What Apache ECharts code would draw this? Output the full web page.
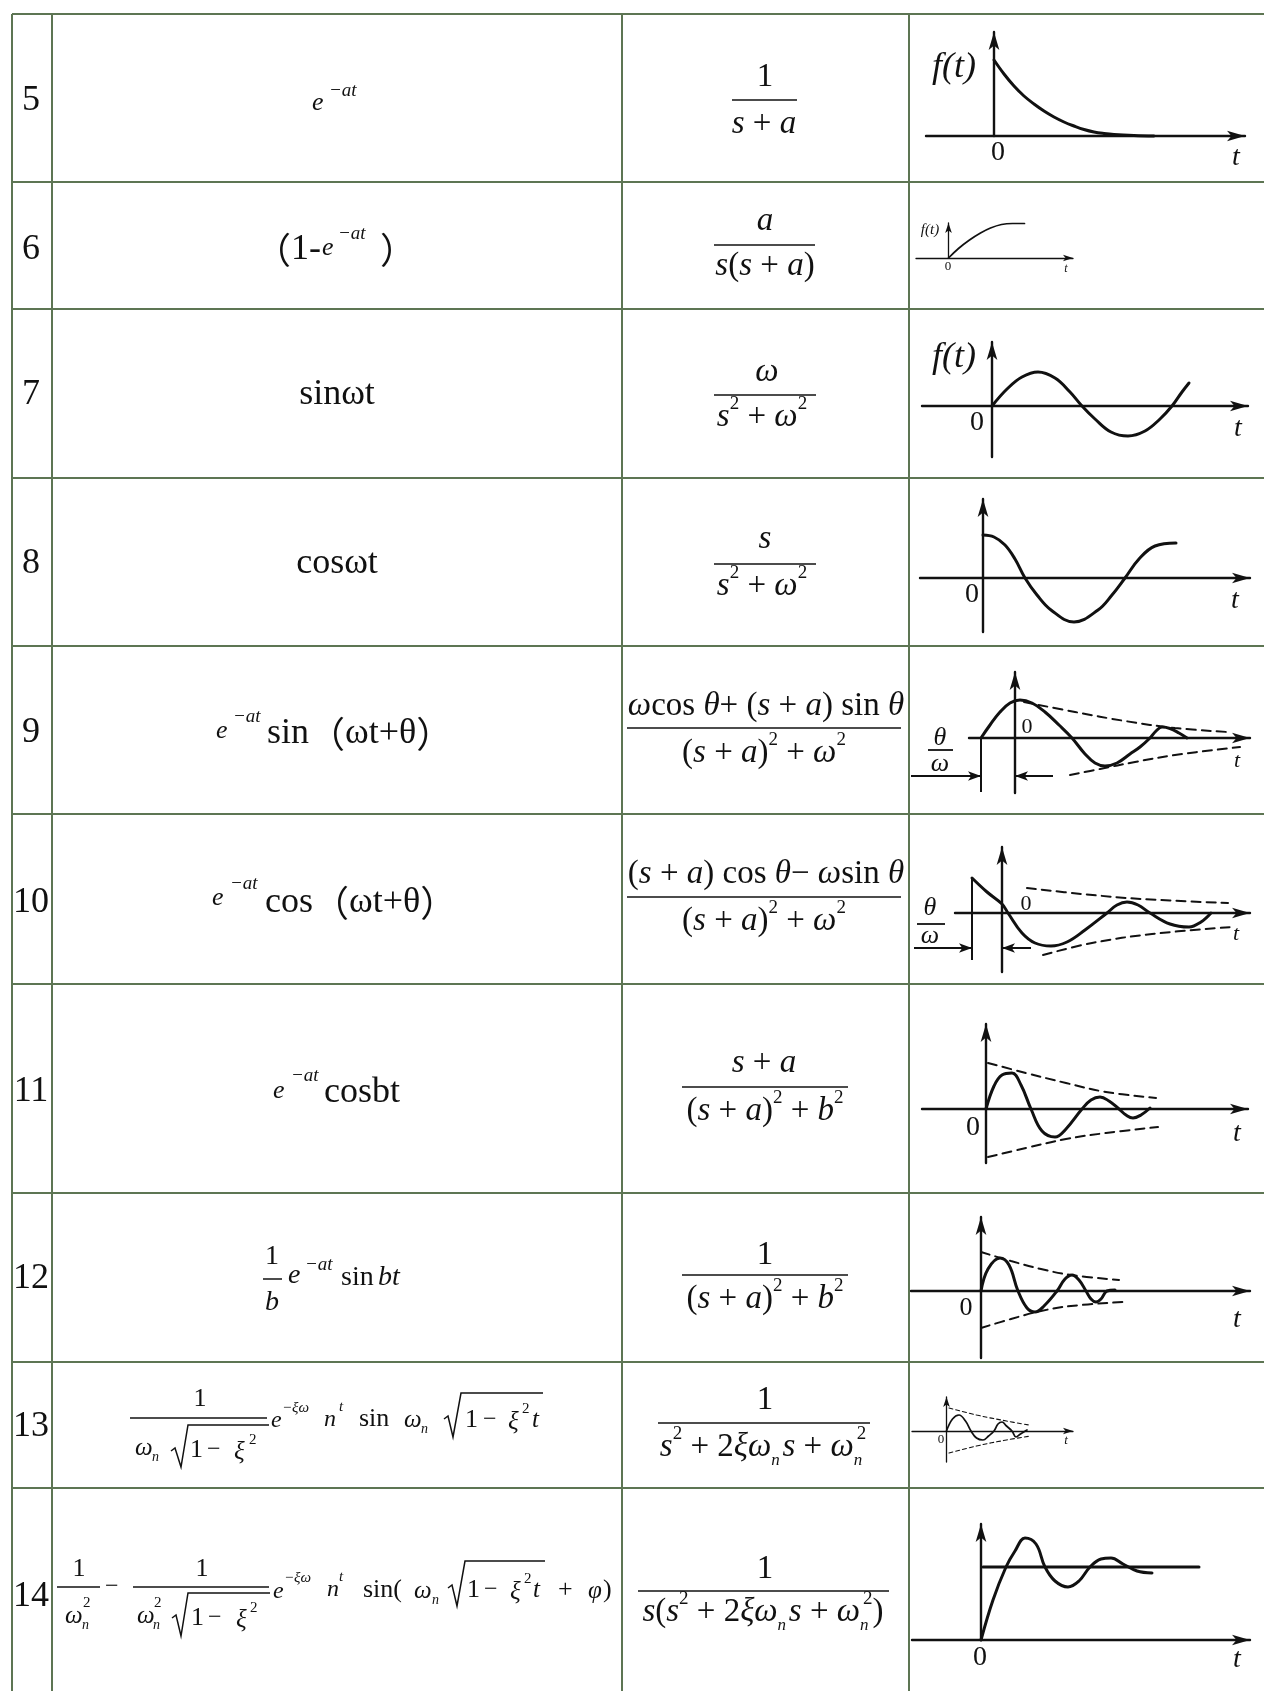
<!DOCTYPE html>
<html><head><meta charset="utf-8"><title>Laplace transform table</title>
<script src="https://cdn.jsdelivr.net/npm/echarts@6/dist/echarts.min.js"></script>
<style>html,body{margin:0;padding:0;background:#fff;}#chart{width:1264px;height:1691px;}</style>
</head><body><div id="chart"></div>
<script>
// ---------------- data (t, f(t)); 1 unit = 10 px of the drawing ----------------
const rowLabels = ['5','6','7','8','9','10','11','12','13','14'];

const curve5  = [[0,7.6],[1,6.2],[2,5.0],[3,4.0],[4,3.2],[5,2.5],[6,1.9],[7,1.4],[8,1.0],[9,0.65],[10,0.4],[11,0.25],[12,0.15],[14,0.05],[16,0]];
const curve6  = [[0,0],[1,0.95],[2.1,1.8],[3.2,2.5],[4.2,3.0],[5.3,3.35],[6.4,3.45],[7.6,3.45]];
const curve7  = [[0,0],[1.5,1.7],[3.0,2.9],[4.6,3.4],[6.3,2.8],[7.8,1.4],[9.0,0],[10.3,-1.3],[11.9,-2.6],[13.6,-3.0],[15.3,-2.5],[16.8,-1.3],[18.0,0],[19.0,1.4],[19.7,2.3]];
const curve8  = [[0,4.3],[1.1,4.1],[2.2,3.3],[3.2,1.9],[4.2,0],[5.4,-1.7],[6.8,-3.2],[9.1,-4.4],[11.5,-3.2],[12.9,-1.7],[14.2,0],[15.6,1.9],[17.2,3.2],[19.3,3.5]];
const curve9  = [[-3.4,0],[-2.5,1.3],[-1.5,2.6],[-0.5,3.5],[0.5,3.8],[1.7,3.5],[3.0,2.6],[4.4,1.3],[5.7,0],[7.0,-1.6],[8.0,-2.5],[9.0,-2.8],[10.2,-2.5],[11.5,-1.6],[12.5,-0.9],[13.5,0],[14.1,0.7],[14.7,1.1],[15.5,0.95],[16.4,0.5],[17.2,0]];
const env9Upper  = [[0.9,3.6],[6,2.6],[11,1.7],[16,1.0],[21.3,0.6]];
const env9Lower  = [[5.5,-3.7],[8.5,-3.1],[12,-2.4],[16,-1.7],[22.5,-0.9]];
const marks9 = {arrows:[[[-10.4,-3.8],[-3.4,-3.8]],[[3.8,-3.8],[0,-3.8]]], bars:[[[-3.4,0],[-3.4,-5.4]]]};
const curve10 = [[-3.0,3.5],[-1.5,2.1],[0,0.9],[0.6,0],[2.0,-2.0],[3.3,-3.0],[4.9,-3.3],[6.5,-2.9],[8.3,-1.7],[10.5,0],[11.5,0.8],[12.5,1.1],[13.6,0.8],[14.8,0],[16.8,-1.1],[18.7,-1.4],[19.9,-0.9],[20.9,0]];
const env10Upper = [[2.5,2.5],[8,1.9],[14,1.4],[22.6,1.0]];
const env10Lower = [[4.1,-4.2],[9,-3.0],[15,-2.1],[23.0,-1.4]];
const marks10 = {arrows:[[[-8.8,-3.5],[-3.0,-3.5]],[[2.9,-3.5],[0,-3.5]]], bars:[[[-3.0,3.5],[-3.0,-4.7]]]};
const curve11 = [[0,0],[0.8,2.3],[1.6,3.4],[2.6,3.6],[3.5,2.4],[4.5,0],[5.6,-2.2],[6.9,-2.8],[8.0,-2.0],[9.6,0],[10.5,0.9],[11.4,1.2],[12.3,0.8],[13.3,0],[14.0,-0.6],[14.7,-0.9],[15.5,-0.6],[16.4,0.1]];
const env11Upper = [[0.2,4.6],[4,3.6],[8,2.6],[12,1.7],[17,1.1]];
const env11Lower = [[0.2,-4.8],[4,-3.9],[8,-3.0],[12,-2.4],[17.2,-1.8]];
const curve12 = [[0,0],[0.7,2.2],[1.9,3.3],[2.8,2.6],[3.7,0],[4.6,-1.7],[5.4,-2.1],[6.3,-1.5],[7.6,0],[8.4,1.2],[9.1,1.6],[9.8,1.1],[10.5,0],[11.0,-0.8],[11.5,-1.1],[12.0,-0.8],[12.6,0],[13.4,0.1]];
const env12Upper = [[0,3.9],[3,3.0],[6,2.2],[9,1.6],[13.8,1.1]];
const env12Lower = [[0,-3.7],[3,-2.8],[6,-2.0],[9,-1.5],[14.2,-1.1]];
const curve13 = [[0,0],[0.6,1.2],[1.25,1.6],[1.9,1.0],[2.45,0],[3.0,-0.7],[3.65,-0.9],[4.2,-0.5],[4.75,0],[5.15,0.7],[5.55,0.9],[6.0,0.5],[6.55,0],[6.95,-0.6],[7.4,-0.3],[8.05,0.1]];
const env13Upper = [[0.25,2.3],[3,1.6],[6,1.0],[8.25,0.6]];
const env13Lower = [[0.25,-2.2],[3,-1.5],[6,-0.9],[8.45,-0.5]];
const curve14 = [[0,0],[1.2,4.0],[2.5,7.3],[3.4,8.9],[4.4,10.2],[5.5,9.6],[6.4,7.3],[7.4,5.9],[8.7,5.3],[9.8,5.9],[10.9,7.3],[12.0,8.1],[13.0,8.2],[14.2,7.6],[15.6,6.9],[17.1,6.7]];
const steady14 = [[0.2,7.3],[21.8,7.3]];

// ---------------- layout (pixels) ----------------
const SERIF = '"Liberation Serif","Times New Roman",serif';
const CJK = '"Noto Sans CJK SC",sans-serif';
const INK = '#111';
const GRID_COLOR = '#5d7553';
const U = 10;
const rowLineY = [14,182,309,478,646,814,984,1193,1362,1488];
const colLineX = [12,52,622,909];
const rowLabelY = [101,250,395,564,733,903,1092,1279,1427,1597];

const plots = [
 {ox:994,  oy:136,  xl:926, xr:1254, yt:23,   yb:136,  s:'L', solid:[curve5]},
 {ox:948.5,oy:258,  xl:916, xr:1078, yt:218,  yb:258,  s:'S', solid:[curve6]},
 {ox:992,  oy:406,  xl:922, xr:1257, yt:333,  yb:457,  s:'L', solid:[curve7]},
 {ox:983,  oy:578,  xl:920, xr:1259, yt:490,  yb:632,  s:'L', solid:[curve8]},
 {ox:1015, oy:738,  xl:969, xr:1259, yt:663,  yb:793,  s:'L', solid:[curve9],  dashed:[env9Upper,env9Lower], marks:marks9, markLeft:905},
 {ox:1002, oy:913,  xl:955, xr:1259, yt:838,  yb:972,  s:'L', solid:[curve10], dashed:[env10Upper,env10Lower], marks:marks10, markLeft:905},
 {ox:986,  oy:1109, xl:922, xr:1257, yt:1015, yb:1163, s:'L', solid:[curve11], dashed:[env11Upper,env11Lower]},
 {ox:981,  oy:1291, xl:911, xr:1259, yt:1208, yb:1358, s:'L', solid:[curve12], dashed:[env12Upper,env12Lower]},
 {ox:946.5,oy:1431, xl:912, xr:1078, yt:1392, yb:1462, s:'S', solid:[curve13], dashed:[env13Upper,env13Lower]},
 {ox:981,  oy:1640, xl:912, xr:1259, yt:1515, yb:1640, s:'L', solid:[curve14, steady14]}
];
const STY = {
  L:{arrow:[8,18], axis:2.4, line:3, dash:[9,6], dw:2},
  S:{arrow:[5,10], axis:1.3, line:1.7, dash:[4,3], dw:1.1}
};

const grids=[], xAxes=[], yAxes=[], series=[];
function axisCfg(show, st){
  return {show:show, axisLine:{show:show, onZero:true, symbol:['none','arrow'], symbolSize:st.arrow, lineStyle:{color:INK, width:st.axis}},
          axisTick:{show:false}, axisLabel:{show:false}, splitLine:{show:false}};
}
function addGrid(left, right, top, bottom, ox, oy, show, st){
  const gi = grids.length;
  grids.push({left:left, top:top, width:right-left, height:bottom-top, containLabel:false});
  xAxes.push(Object.assign({type:'value', gridIndex:gi, min:(left-ox)/U, max:(right-ox)/U}, axisCfg(show, st)));
  yAxes.push(Object.assign({type:'value', gridIndex:gi, min:(oy-bottom)/U, max:(oy-top)/U}, axisCfg(show, st)));
  return gi;
}
function lineSeries(gi, data, w, type){
  return {type:'line', xAxisIndex:gi, yAxisIndex:gi, data:data, showSymbol:false, symbol:'none', smooth:0.4,
          clip:false, silent:true, z:3, lineStyle:{color:INK, width:w, type:type, cap:'round'}};
}
plots.forEach(function(p){
  const st = STY[p.s], h = st.arrow[1]/2;
  const gi = addGrid(p.xl, p.xr-h, p.yt+h, p.yb, p.ox, p.oy, true, st);
  p.solid.forEach(function(d){ series.push(lineSeries(gi, d, st.line, 'solid')); });
  (p.dashed||[]).forEach(function(d){ series.push(lineSeries(gi, d, st.dw, st.dash)); });
  if (p.marks){
    const gj = addGrid(p.markLeft, p.xr-h, p.yt+h, p.yb, p.ox, p.oy, false, st);
    const ml = [];
    p.marks.arrows.forEach(function(a){ ml.push([{coord:a[0]},{coord:a[1]}]); });
    p.marks.bars.forEach(function(b){ ml.push([{coord:b[0], symbol:'none'},{coord:b[1], symbol:'none'}]); });
    series.push({type:'line', xAxisIndex:gj, yAxisIndex:gj, data:[], silent:true,
      markLine:{silent:true, animation:false, symbol:['none','arrow'], symbolSize:[7,13], label:{show:false},
                lineStyle:{color:INK, width:2, type:'solid'}, emphasis:{disabled:true}, data:ml}});
  }
});

// ---------------- text & table ----------------
const G = [];
function T(s, x, y, size, o){
  o = o || {};
  G.push({type:'text', x:x, y:y, silent:true, z:10, style:{text:s, fontFamily:o.cjk?CJK:SERIF, fontSize:size,
    fontStyle:o.it?'italic':'normal', fontWeight:o.bold?'bold':'normal', fill:INK, align:o.al||'left', verticalAlign:'middle'}});
}
const RICH = {
  r:{fontFamily:SERIF, fontSize:33, lineHeight:44, align:'left', fill:INK},
  i:{fontFamily:SERIF, fontSize:33, fontStyle:'italic', lineHeight:44, align:'left', fill:INK},
  R:{fontFamily:SERIF, fontSize:36, lineHeight:44, align:'left', fill:INK},
  p:{fontFamily:CJK, fontSize:36, lineHeight:44, align:'left', fill:INK},
  su:{fontFamily:SERIF, fontSize:19, lineHeight:18, verticalAlign:'top', align:'left', fill:INK},
  sbn:{fontFamily:SERIF, fontSize:17, fontStyle:'italic', lineHeight:16, verticalAlign:'bottom', align:'left', width:3, fill:INK}
};
function R(s, x, y, al){
  G.push({type:'text', x:x, y:y, silent:true, z:10, style:{text:s, rich:RICH, align:al||'center', verticalAlign:'middle', fill:INK, fontFamily:SERIF, fontSize:33}});
}
function L(x1,y1,x2,y2,w,c){ G.push({type:'line', silent:true, z:5, shape:{x1:x1,y1:y1,x2:x2,y2:y2}, style:{stroke:c||INK, lineWidth:w||1.6}}); }
function P(pts, w){ G.push({type:'polyline', silent:true, z:5, shape:{points:pts}, style:{stroke:INK, lineWidth:w||1.5, fill:null}}); }

// table rules
rowLineY.forEach(function(y){ L(colLineX[0], y, 1264, y, 2, GRID_COLOR); });
colLineX.forEach(function(x){ L(x, rowLineY[0], x, 1691, 2, GRID_COLOR); });

// column 1
rowLabels.forEach(function(s, k){ T(s, 31, rowLabelY[k], 36, {al:'center'}); });

// column 2: f(t)
T('e', 312, 103, 26, {it:1}); T('−at', 329, 91, 19, {it:1});
R('{p|（}{R|1-}', 321, 250, 'right'); T('e', 322, 248, 26, {it:1}); T('−at', 338, 234, 19, {it:1}); T('）', 380, 250, 36, {cjk:1});
T('sinωt', 337, 395, 36, {al:'center'});
T('cosωt', 337, 564, 36, {al:'center'});
T('e', 216, 731, 26, {it:1}); T('−at', 233, 717, 19, {it:1}); R('{R|sin}{p|（}{R|ωt+θ}{p|）}', 267, 734, 'left');
T('e', 212, 898, 26, {it:1}); T('−at', 230, 884, 19, {it:1}); R('{R|cos}{p|（}{R|ωt+θ}{p|）}', 265, 903, 'left');
T('e', 273, 1091, 26, {it:1}); T('−at', 291, 1076, 19, {it:1}); T('cosbt', 324, 1093, 36);
// row 12
T('1', 272, 1257, 28, {al:'center'}); L(263,1279,282,1279,1.5); T('b', 272, 1303, 28, {it:1, al:'center'});
T('e', 288, 1276, 28, {it:1}); T('−at', 305, 1265, 19, {it:1}); T('sin', 341, 1278, 28); T('bt', 378, 1278, 28, {it:1});
// row 13
T('1', 200, 1399, 26, {al:'center'}); L(130,1418,267,1418,1.6);
T('ω', 135, 1448, 25, {it:1}); T('n', 152, 1457, 14, {it:1});
P([[171,1451],[175,1448],[181,1467],[188,1425],[269,1425]]);
T('1', 190, 1450, 26); T('−', 207, 1450, 24); T('ξ', 234, 1452, 25, {it:1}); T('2', 249, 1440, 15);
T('e', 271, 1421, 24, {it:1}); T('−ξω', 282, 1408, 15, {it:1}); T('n', 324, 1420, 24, {it:1}); T('t', 339, 1407, 15, {it:1});
T('sin', 359, 1419, 26); T('ω', 404, 1420, 25, {it:1}); T('n', 421, 1429, 14, {it:1});
P([[444,1419],[448,1416],[453,1437],[461,1393],[543,1393]]);
T('1', 465, 1420, 26); T('−', 483, 1420, 24); T('ξ', 508, 1422, 25, {it:1}); T('2', 522, 1409, 15); T('t', 532, 1420, 25, {it:1});
// row 14
T('1', 79, 1569, 26, {al:'center'}); L(57,1587,100,1587,1.6);
T('ω', 65, 1616, 25, {it:1}); T('2', 83, 1603, 15); T('n', 82, 1625, 14, {it:1});
T('−', 105, 1587, 24);
T('1', 202, 1569, 26, {al:'center'}); L(133,1587,269,1587,1.6);
T('ω', 137, 1616, 25, {it:1}); T('2', 154, 1603, 15); T('n', 153, 1625, 14, {it:1});
P([[172,1618],[176,1615],[181,1636],[188,1593],[270,1593]]);
T('1', 191, 1618, 26); T('−', 208, 1618, 24); T('ξ', 236, 1620, 25, {it:1}); T('2', 250, 1608, 15);
T('e', 273, 1592, 24, {it:1}); T('−ξω', 284, 1578, 15, {it:1}); T('n', 327, 1590, 24, {it:1}); T('t', 339, 1577, 15, {it:1});
T('sin(', 363, 1590, 26); T('ω', 414, 1591, 25, {it:1}); T('n', 432, 1600, 14, {it:1});
P([[448,1588],[452,1585],[457,1606],[465,1561],[545,1561]]);
T('1', 467, 1590, 26); T('−', 484, 1590, 24); T('ξ', 510, 1592, 25, {it:1}); T('2', 524, 1579, 15); T('t', 533, 1590, 25, {it:1});
T('+', 558, 1590, 26); T('φ', 588, 1591, 25, {it:1}); T(')', 603, 1590, 26);

// column 3: F(s)
const denSW = '{i|s}{su|2}{r| + }{i|ω}{su|2}';
const denSA = '{r|(}{i|s}{r| + }{i|a}{r|)}{su|2}{r| + }{i|ω}{su|2}';
const denSB = '{r|(}{i|s}{r| + }{i|a}{r|)}{su|2}{r| + }{i|b}{su|2}';
const denZ  = '{i|s}{su|2}{r| + 2}{i|ξω}{sbn|n}{i| s}{r| + }{i|ω}{sbn|n}{su|2}';
R('{r|1}', 765, 77);  L(732,100,797,100); R('{i|s}{r| + }{i|a}', 764, 124);
R('{i|a}', 765, 221); L(714,245,815,245); R('{i|s}{r|(}{i|s}{r| + }{i|a}{r|)}', 765, 266);
R('{i|ω}', 767, 372); L(714,395,816,395); R(denSW, 762, 417);
R('{i|s}', 765, 539); L(714,564,816,564); R(denSW, 762, 586);
R('{i|ω}{r|cos }{i|θ}{r|+ (}{i|s}{r| + }{i|a}{r|) sin }{i|θ}', 766, 706); L(627,728,901,728); R(denSA, 764, 753);
R('{r|(}{i|s}{r| + }{i|a}{r|) cos }{i|θ}{r|− }{i|ω}{r|sin }{i|θ}', 766, 874); L(627,897,901,897); R(denSA, 764, 921);
R('{i|s}{r| + }{i|a}', 764, 1063); L(682,1087,848,1087); R(denSB, 765, 1111);
R('{r|1}', 765, 1255); L(682,1275,848,1275); R(denSB, 765, 1299);
R('{r|1}', 765, 1400); L(658,1423,870,1423); R(denZ, 763, 1447);
R('{r|1}', 765, 1569); L(638,1591,889,1591); R('{i|s}{r|(}' + denZ + '{r|)}', 763, 1612);

// column 4 labels
T('f(t)', 954, 68, 36, {it:1, al:'center'}); T('0', 998, 153, 28, {al:'center'}); T('t', 1236, 158, 28, {it:1, al:'center'});
T('f(t)', 930, 230, 15, {it:1, al:'center'}); T('0', 948, 267, 13, {al:'center'}); T('t', 1066, 269, 12, {it:1, al:'center'});
T('f(t)', 954, 358, 36, {it:1, al:'center'}); T('0', 977, 423, 28, {al:'center'}); T('t', 1238, 429, 28, {it:1, al:'center'});
T('0', 972, 595, 28, {al:'center'}); T('t', 1235, 601, 28, {it:1, al:'center'});
T('0', 1027, 727, 22, {al:'center'}); T('t', 1237, 761, 22, {it:1, al:'center'});
T('θ', 940, 738, 26, {it:1, al:'center'}); L(928,750,953,750,1.8); T('ω', 940, 764, 26, {it:1, al:'center'});
T('0', 1026, 904, 22, {al:'center'}); T('t', 1236, 934, 22, {it:1, al:'center'});
T('θ', 930, 908, 26, {it:1, al:'center'}); L(917,924,945,924,1.8); T('ω', 930, 936, 26, {it:1, al:'center'});
T('0', 973, 1128, 28, {al:'center'}); T('t', 1237, 1134, 28, {it:1, al:'center'});
T('0', 966, 1308, 26, {al:'center'}); T('t', 1237, 1320, 28, {it:1, al:'center'});
T('0', 941, 1440, 13, {al:'center'}); T('t', 1066, 1441, 13, {it:1, al:'center'});
T('0', 980, 1658, 28, {al:'center'}); T('t', 1237, 1660, 28, {it:1, al:'center'});

const chart = echarts.init(document.getElementById('chart'), null, {renderer:'canvas'});
chart.setOption({
  animation:false, backgroundColor:'#ffffff',
  grid:grids, xAxis:xAxes, yAxis:yAxes, series:series,
  graphic:{elements:G}
});
</script>
</body></html>
